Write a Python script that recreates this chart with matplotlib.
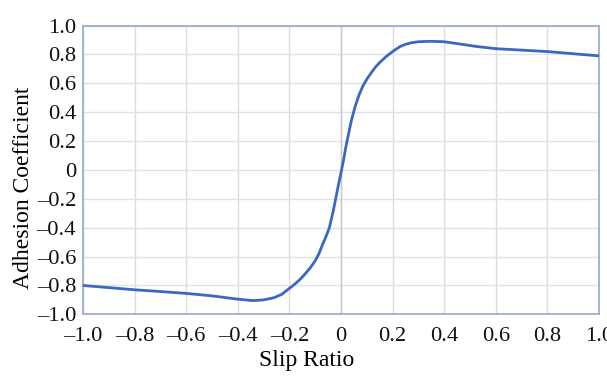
import matplotlib
matplotlib.use("Agg")
import matplotlib.pyplot as plt
from matplotlib.ticker import FixedLocator, FuncFormatter

plt.rcParams['font.family'] = ['Liberation Serif', 'DejaVu Serif']

slip = [-1.0, -0.9, -0.8, -0.7, -0.6, -0.5, -0.4, -0.34, -0.3, -0.26, -0.23, -0.2,
        -0.18, -0.16, -0.14, -0.12, -0.1, -0.085, -0.07, -0.06, -0.045, -0.03, -0.02,
        -0.01, 0.0, 0.01, 0.02, 0.03, 0.04, 0.055, 0.07, 0.086, 0.1, 0.12, 0.135,
        0.151, 0.175, 0.2, 0.229, 0.25, 0.27, 0.3, 0.345, 0.4, 0.45, 0.526, 0.6,
        0.7, 0.8, 0.9, 1.0]
adhesion = [-0.80, -0.815, -0.83, -0.842, -0.855, -0.872, -0.895, -0.905, -0.90,
            -0.885, -0.862, -0.82, -0.792, -0.76, -0.722, -0.68, -0.63, -0.578,
            -0.51, -0.47, -0.40, -0.285, -0.195, -0.105, -0.02, 0.07, 0.17, 0.255,
            0.34, 0.44, 0.52, 0.585, 0.628, 0.68, 0.715, 0.746, 0.785, 0.82, 0.855,
            0.87, 0.88, 0.888, 0.891, 0.888, 0.875, 0.855, 0.84, 0.83, 0.82, 0.805,
            0.79]

x_ticks = [-1.0, -0.8, -0.6, -0.4, -0.2, 0.0, 0.2, 0.4, 0.6, 0.8, 1.0]
y_ticks = [-1.0, -0.8, -0.6, -0.4, -0.2, 0.0, 0.2, 0.4, 0.6, 0.8, 1.0]
x_label = "Slip Ratio"
y_label = "Adhesion Coefficient"


def fmt(v, _pos):
    if abs(v) < 1e-9:
        return "0"
    s = f"{abs(v):.1f}"
    return ("\u2013" + s) if v < 0 else s


fig = plt.figure(figsize=(6.07, 3.76), dpi=100)
ax = fig.add_axes([0.1367, 0.164, 0.8501, 0.768])

ax.set_xlim(-1.0, 1.0)
ax.set_ylim(-1.0, 1.0)
ax.xaxis.set_major_locator(FixedLocator(x_ticks))
ax.yaxis.set_major_locator(FixedLocator(y_ticks))
ax.xaxis.set_major_formatter(FuncFormatter(fmt))
ax.yaxis.set_major_formatter(FuncFormatter(fmt))

ax.grid(True, axis='x', color='#dcdcdc', linewidth=1.0)
ax.grid(True, axis='y', color='#dce3f0', linewidth=1.0)
ax.axvline(0, color='#c8c8c8', linewidth=1.0, zorder=1)
ax.set_axisbelow(True)

for sp in ax.spines.values():
    sp.set_color('#94a8d2')
    sp.set_linewidth(1.2)

ax.tick_params(length=0, labelsize=16.2, colors='#111111', pad=5)
ax.tick_params(axis='x', pad=9)

ax.plot(slip, adhesion, color='#3b67c2', linewidth=2.0, zorder=3,
        solid_joinstyle='round')

fig.text(0.505, 0.012, x_label, ha='center', va='bottom', fontsize=17)
fig.text(0.022, 0.5, y_label, ha='left', va='center', rotation=90, fontsize=17)

fig.savefig("out.png", dpi=100)
